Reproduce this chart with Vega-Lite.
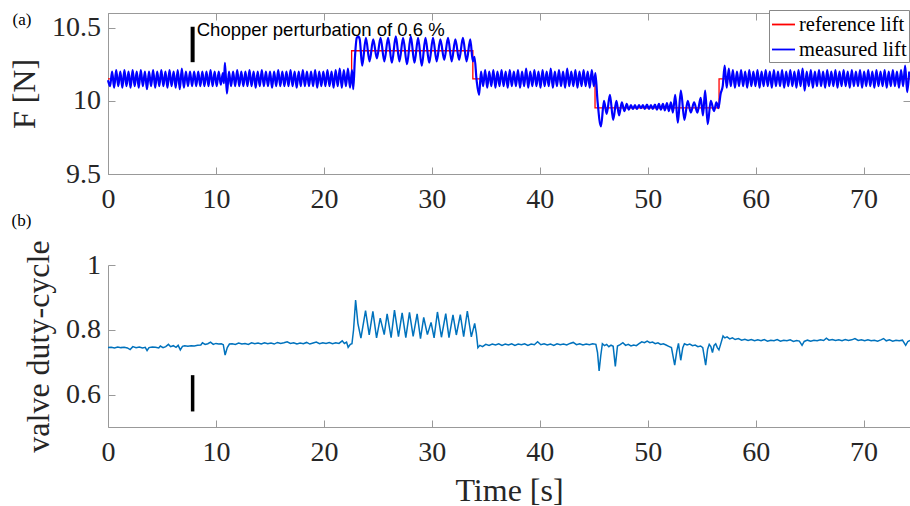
{
"$schema": "https://vega.github.io/schema/vega-lite/v6.json",
"padding": {"left": 8, "top": 9, "right": 0, "bottom": 0},
"background": "white",
"spacing": -3,
"config": {
 "font": "Liberation Serif",
 "style": {"guide-label": {"font": "Liberation Serif"}, "guide-title": {"font": "Liberation Serif"}},
 "axis": {"grid": false, "domainColor": "#999", "tickColor": "#999", "domainWidth": 1, "tickWidth": 1, "tickSize": -7, "labelColor": "#262626", "titleColor": "#262626", "labelFont": "Liberation Serif", "titleFont": "Liberation Serif", "labelFontSize": 28, "titleFontSize": 32, "titleFontWeight": "normal", "labelFlush": false},
 "axisX": {"labelPadding": 18},
 "axisY": {"labelPadding": 14.5},
 "title": {"font": "Liberation Serif", "fontSize": 17, "fontWeight": "normal", "anchor": "start", "frame": "bounds", "color": "black"},
 "legend": {"labelFont": "Liberation Serif", "labelFontSize": 20.5, "labelColor": "black", "symbolType": "stroke", "symbolSize": 529, "symbolStrokeWidth": 1.8, "padding": 2, "rowPadding": 2, "labelOffset": 3, "fillColor": "white", "strokeColor": "#888", "cornerRadius": 0}
},
"datasets": {
 "ref": [{"t":0,"v":10.15},{"t":22.57,"v":10.342},{"t":33.8,"v":10.15},{"t":45.12,"v":9.952},{"t":56.61,"v":10.15},{"t":74.3,"v":10.15}],
 "meas": [{"t":0,"v":10.14},{"t":0.19,"v":10.1},{"t":0.38,"v":10.2},{"t":0.57,"v":10.09},{"t":0.76,"v":10.21},{"t":0.95,"v":10.1},{"t":1.14,"v":10.2},{"t":1.33,"v":10.09},{"t":1.52,"v":10.21},{"t":1.71,"v":10.1},{"t":1.9,"v":10.2},{"t":2.09,"v":10.09},{"t":2.28,"v":10.21},{"t":2.47,"v":10.1},{"t":2.66,"v":10.2},{"t":2.85,"v":10.09},{"t":3.04,"v":10.21},{"t":3.23,"v":10.1},{"t":3.42,"v":10.2},{"t":3.61,"v":10.08},{"t":3.8,"v":10.2},{"t":3.99,"v":10.1},{"t":4.18,"v":10.21},{"t":4.37,"v":10.09},{"t":4.56,"v":10.2},{"t":4.75,"v":10.1},{"t":4.94,"v":10.21},{"t":5.13,"v":10.1},{"t":5.32,"v":10.2},{"t":5.51,"v":10.09},{"t":5.7,"v":10.21},{"t":5.89,"v":10.1},{"t":6.08,"v":10.2},{"t":6.27,"v":10.09},{"t":6.46,"v":10.21},{"t":6.65,"v":10.08},{"t":6.84,"v":10.22},{"t":7.03,"v":10.09},{"t":7.22,"v":10.2},{"t":7.41,"v":10.1},{"t":7.6,"v":10.2},{"t":7.79,"v":10.1},{"t":7.98,"v":10.2},{"t":8.17,"v":10.1},{"t":8.36,"v":10.2},{"t":8.55,"v":10.1},{"t":8.74,"v":10.2},{"t":8.93,"v":10.1},{"t":9.12,"v":10.2},{"t":9.31,"v":10.1},{"t":9.5,"v":10.21},{"t":9.69,"v":10.1},{"t":9.88,"v":10.2},{"t":10.07,"v":10.1},{"t":10.26,"v":10.2},{"t":10.45,"v":10.11},{"t":10.64,"v":10.19},{"t":10.74,"v":10.12},{"t":10.83,"v":10.26},{"t":11.02,"v":10.05},{"t":11.21,"v":10.2},{"t":11.4,"v":10.1},{"t":11.59,"v":10.2},{"t":11.78,"v":10.1},{"t":11.97,"v":10.21},{"t":12.16,"v":10.1},{"t":12.35,"v":10.2},{"t":12.54,"v":10.1},{"t":12.73,"v":10.2},{"t":12.92,"v":10.1},{"t":13.11,"v":10.21},{"t":13.3,"v":10.1},{"t":13.49,"v":10.2},{"t":13.68,"v":10.09},{"t":13.87,"v":10.2},{"t":14.06,"v":10.1},{"t":14.25,"v":10.21},{"t":14.44,"v":10.1},{"t":14.63,"v":10.2},{"t":14.82,"v":10.1},{"t":15.01,"v":10.2},{"t":15.2,"v":10.09},{"t":15.39,"v":10.2},{"t":15.58,"v":10.1},{"t":15.77,"v":10.21},{"t":15.96,"v":10.1},{"t":16.15,"v":10.2},{"t":16.34,"v":10.1},{"t":16.53,"v":10.2},{"t":16.72,"v":10.1},{"t":16.91,"v":10.21},{"t":17.1,"v":10.1},{"t":17.29,"v":10.2},{"t":17.48,"v":10.09},{"t":17.67,"v":10.2},{"t":17.86,"v":10.1},{"t":18.05,"v":10.21},{"t":18.24,"v":10.1},{"t":18.43,"v":10.2},{"t":18.62,"v":10.1},{"t":18.81,"v":10.2},{"t":19.0,"v":10.1},{"t":19.19,"v":10.21},{"t":19.38,"v":10.09},{"t":19.57,"v":10.2},{"t":19.76,"v":10.1},{"t":19.95,"v":10.2},{"t":20.14,"v":10.1},{"t":20.33,"v":10.21},{"t":20.52,"v":10.1},{"t":20.71,"v":10.2},{"t":20.9,"v":10.09},{"t":21.09,"v":10.21},{"t":21.28,"v":10.1},{"t":21.47,"v":10.22},{"t":21.66,"v":10.09},{"t":21.85,"v":10.21},{"t":22.04,"v":10.1},{"t":22.23,"v":10.22},{"t":22.42,"v":10.09},{"t":22.61,"v":10.21},{"t":22.72,"v":10.08},{"t":22.88,"v":10.3},{"t":23.04,"v":10.43},{"t":23.18,"v":10.44},{"t":23.32,"v":10.42},{"t":23.55,"v":10.24},{"t":23.89,"v":10.43},{"t":24.23,"v":10.27},{"t":24.57,"v":10.42},{"t":24.91,"v":10.29},{"t":25.25,"v":10.43},{"t":25.6,"v":10.27},{"t":25.95,"v":10.43},{"t":26.3,"v":10.26},{"t":26.66,"v":10.44},{"t":27.0,"v":10.27},{"t":27.34,"v":10.43},{"t":27.7,"v":10.25},{"t":28.05,"v":10.44},{"t":28.39,"v":10.26},{"t":28.73,"v":10.43},{"t":29.07,"v":10.24},{"t":29.41,"v":10.43},{"t":29.76,"v":10.26},{"t":30.11,"v":10.43},{"t":30.45,"v":10.27},{"t":30.79,"v":10.42},{"t":31.15,"v":10.28},{"t":31.5,"v":10.43},{"t":31.84,"v":10.27},{"t":32.18,"v":10.42},{"t":32.53,"v":10.28},{"t":32.88,"v":10.43},{"t":33.22,"v":10.27},{"t":33.56,"v":10.42},{"t":33.8,"v":10.27},{"t":33.95,"v":10.3},{"t":34.15,"v":10.14},{"t":34.38,"v":10.04},{"t":34.56,"v":10.2},{"t":34.75,"v":10.1},{"t":34.94,"v":10.21},{"t":35.13,"v":10.09},{"t":35.32,"v":10.2},{"t":35.51,"v":10.1},{"t":35.7,"v":10.21},{"t":35.89,"v":10.09},{"t":36.08,"v":10.2},{"t":36.27,"v":10.1},{"t":36.46,"v":10.21},{"t":36.65,"v":10.1},{"t":36.84,"v":10.2},{"t":37.03,"v":10.09},{"t":37.22,"v":10.21},{"t":37.41,"v":10.1},{"t":37.6,"v":10.2},{"t":37.79,"v":10.1},{"t":37.98,"v":10.21},{"t":38.17,"v":10.09},{"t":38.36,"v":10.2},{"t":38.55,"v":10.1},{"t":38.74,"v":10.22},{"t":38.93,"v":10.09},{"t":39.12,"v":10.2},{"t":39.31,"v":10.1},{"t":39.5,"v":10.21},{"t":39.69,"v":10.1},{"t":39.88,"v":10.2},{"t":40.07,"v":10.09},{"t":40.26,"v":10.21},{"t":40.45,"v":10.1},{"t":40.64,"v":10.2},{"t":40.83,"v":10.1},{"t":41.02,"v":10.22},{"t":41.21,"v":10.09},{"t":41.4,"v":10.2},{"t":41.59,"v":10.1},{"t":41.78,"v":10.21},{"t":41.97,"v":10.1},{"t":42.16,"v":10.2},{"t":42.35,"v":10.09},{"t":42.54,"v":10.22},{"t":42.73,"v":10.1},{"t":42.92,"v":10.2},{"t":43.11,"v":10.1},{"t":43.3,"v":10.21},{"t":43.49,"v":10.09},{"t":43.68,"v":10.2},{"t":43.87,"v":10.1},{"t":44.06,"v":10.21},{"t":44.25,"v":10.1},{"t":44.44,"v":10.2},{"t":44.63,"v":10.09},{"t":44.82,"v":10.21},{"t":45.01,"v":10.1},{"t":45.15,"v":10.19},{"t":45.35,"v":10.0},{"t":45.67,"v":9.825},{"t":45.95,"v":10.0},{"t":46.2,"v":9.91},{"t":46.5,"v":10.04},{"t":46.8,"v":9.87},{"t":47.1,"v":10.0},{"t":47.35,"v":9.9},{"t":47.6,"v":9.99},{"t":47.85,"v":9.93},{"t":48.05,"v":9.98},{"t":48.25,"v":9.94},{"t":48.45,"v":9.97},{"t":48.63,"v":9.945},{"t":48.82,"v":9.97},{"t":49.0,"v":9.945},{"t":49.19,"v":9.97},{"t":49.37,"v":9.95},{"t":49.56,"v":9.97},{"t":49.74,"v":9.945},{"t":49.93,"v":9.975},{"t":50.11,"v":9.945},{"t":50.3,"v":9.97},{"t":50.48,"v":9.945},{"t":50.67,"v":9.975},{"t":50.85,"v":9.94},{"t":51.04,"v":9.98},{"t":51.22,"v":9.94},{"t":51.41,"v":9.98},{"t":51.59,"v":9.935},{"t":51.78,"v":9.985},{"t":51.96,"v":9.93},{"t":52.15,"v":9.99},{"t":52.33,"v":9.92},{"t":52.55,"v":10.04},{"t":52.79,"v":9.85},{"t":53.07,"v":10.07},{"t":53.4,"v":9.87},{"t":53.71,"v":10.0},{"t":53.99,"v":9.92},{"t":54.3,"v":9.99},{"t":54.6,"v":9.92},{"t":54.91,"v":10.02},{"t":55.12,"v":9.9},{"t":55.32,"v":10.07},{"t":55.56,"v":9.84},{"t":55.84,"v":10.0},{"t":56.15,"v":9.93},{"t":56.36,"v":9.99},{"t":56.55,"v":9.95},{"t":56.76,"v":10.05},{"t":56.95,"v":10.1},{"t":57.13,"v":10.24},{"t":57.32,"v":10.09},{"t":57.51,"v":10.22},{"t":57.7,"v":10.1},{"t":57.89,"v":10.21},{"t":58.08,"v":10.09},{"t":58.27,"v":10.2},{"t":58.46,"v":10.1},{"t":58.65,"v":10.21},{"t":58.84,"v":10.1},{"t":59.03,"v":10.2},{"t":59.22,"v":10.09},{"t":59.41,"v":10.21},{"t":59.6,"v":10.1},{"t":59.79,"v":10.2},{"t":59.98,"v":10.1},{"t":60.17,"v":10.21},{"t":60.36,"v":10.09},{"t":60.55,"v":10.2},{"t":60.74,"v":10.1},{"t":60.93,"v":10.21},{"t":61.12,"v":10.1},{"t":61.31,"v":10.2},{"t":61.5,"v":10.09},{"t":61.69,"v":10.21},{"t":61.88,"v":10.1},{"t":62.07,"v":10.2},{"t":62.26,"v":10.1},{"t":62.45,"v":10.21},{"t":62.64,"v":10.09},{"t":62.83,"v":10.2},{"t":63.02,"v":10.1},{"t":63.21,"v":10.21},{"t":63.4,"v":10.1},{"t":63.59,"v":10.2},{"t":63.78,"v":10.09},{"t":63.97,"v":10.21},{"t":64.16,"v":10.1},{"t":64.35,"v":10.22},{"t":64.54,"v":10.07},{"t":64.73,"v":10.2},{"t":64.92,"v":10.1},{"t":65.11,"v":10.21},{"t":65.3,"v":10.09},{"t":65.49,"v":10.2},{"t":65.68,"v":10.1},{"t":65.87,"v":10.21},{"t":66.06,"v":10.1},{"t":66.25,"v":10.2},{"t":66.44,"v":10.09},{"t":66.63,"v":10.21},{"t":66.82,"v":10.1},{"t":67.01,"v":10.2},{"t":67.2,"v":10.1},{"t":67.39,"v":10.21},{"t":67.58,"v":10.09},{"t":67.77,"v":10.2},{"t":67.96,"v":10.1},{"t":68.15,"v":10.21},{"t":68.34,"v":10.1},{"t":68.53,"v":10.2},{"t":68.72,"v":10.09},{"t":68.91,"v":10.21},{"t":69.1,"v":10.1},{"t":69.29,"v":10.2},{"t":69.48,"v":10.1},{"t":69.67,"v":10.21},{"t":69.86,"v":10.09},{"t":70.05,"v":10.2},{"t":70.24,"v":10.1},{"t":70.43,"v":10.21},{"t":70.62,"v":10.1},{"t":70.81,"v":10.2},{"t":71.0,"v":10.09},{"t":71.19,"v":10.21},{"t":71.38,"v":10.1},{"t":71.57,"v":10.2},{"t":71.76,"v":10.1},{"t":71.95,"v":10.21},{"t":72.14,"v":10.09},{"t":72.33,"v":10.2},{"t":72.52,"v":10.1},{"t":72.71,"v":10.21},{"t":72.9,"v":10.1},{"t":73.09,"v":10.2},{"t":73.28,"v":10.09},{"t":73.47,"v":10.21},{"t":73.66,"v":10.1},{"t":73.85,"v":10.24},{"t":74.04,"v":10.06},{"t":74.23,"v":10.2}],
 "duty": [{"t":0,"v":0.745},{"t":0.3,"v":0.746},{"t":0.6,"v":0.744},{"t":0.9,"v":0.747},{"t":1.2,"v":0.745},{"t":1.5,"v":0.746},{"t":1.8,"v":0.744},{"t":2.05,"v":0.739},{"t":2.3,"v":0.748},{"t":2.6,"v":0.745},{"t":2.9,"v":0.747},{"t":3.2,"v":0.744},{"t":3.45,"v":0.746},{"t":3.62,"v":0.736},{"t":3.8,"v":0.745},{"t":4.1,"v":0.747},{"t":4.4,"v":0.746},{"t":4.7,"v":0.744},{"t":4.85,"v":0.75},{"t":5.1,"v":0.745},{"t":5.35,"v":0.748},{"t":5.6,"v":0.755},{"t":5.8,"v":0.748},{"t":6.05,"v":0.751},{"t":6.3,"v":0.746},{"t":6.5,"v":0.752},{"t":6.7,"v":0.738},{"t":6.9,"v":0.749},{"t":7.1,"v":0.751},{"t":7.4,"v":0.749},{"t":7.7,"v":0.751},{"t":8.0,"v":0.75},{"t":8.3,"v":0.752},{"t":8.6,"v":0.753},{"t":8.75,"v":0.76},{"t":9.0,"v":0.755},{"t":9.25,"v":0.757},{"t":9.5,"v":0.762},{"t":9.75,"v":0.755},{"t":10.0,"v":0.758},{"t":10.25,"v":0.756},{"t":10.5,"v":0.757},{"t":10.68,"v":0.754},{"t":10.85,"v":0.722},{"t":11.05,"v":0.745},{"t":11.25,"v":0.756},{"t":11.5,"v":0.757},{"t":11.8,"v":0.755},{"t":12.1,"v":0.759},{"t":12.4,"v":0.756},{"t":12.7,"v":0.758},{"t":13.0,"v":0.755},{"t":13.3,"v":0.76},{"t":13.6,"v":0.757},{"t":13.9,"v":0.759},{"t":14.2,"v":0.756},{"t":14.5,"v":0.76},{"t":14.8,"v":0.757},{"t":15.1,"v":0.759},{"t":15.4,"v":0.756},{"t":15.7,"v":0.761},{"t":16.0,"v":0.758},{"t":16.3,"v":0.76},{"t":16.6,"v":0.763},{"t":16.9,"v":0.758},{"t":17.2,"v":0.76},{"t":17.5,"v":0.756},{"t":17.8,"v":0.759},{"t":18.1,"v":0.757},{"t":18.4,"v":0.761},{"t":18.7,"v":0.756},{"t":19.0,"v":0.759},{"t":19.3,"v":0.762},{"t":19.6,"v":0.757},{"t":19.9,"v":0.76},{"t":20.2,"v":0.758},{"t":20.5,"v":0.761},{"t":20.8,"v":0.757},{"t":21.1,"v":0.76},{"t":21.4,"v":0.758},{"t":21.7,"v":0.766},{"t":21.9,"v":0.758},{"t":22.1,"v":0.762},{"t":22.25,"v":0.746},{"t":22.45,"v":0.755},{"t":22.6,"v":0.757},{"t":22.75,"v":0.8},{"t":22.94,"v":0.892},{"t":23.15,"v":0.82},{"t":23.43,"v":0.774},{"t":23.86,"v":0.859},{"t":24.2,"v":0.784},{"t":24.54,"v":0.857},{"t":24.88,"v":0.775},{"t":25.22,"v":0.836},{"t":25.59,"v":0.785},{"t":25.86,"v":0.849},{"t":26.23,"v":0.776},{"t":26.54,"v":0.861},{"t":26.91,"v":0.779},{"t":27.25,"v":0.852},{"t":27.59,"v":0.776},{"t":27.93,"v":0.854},{"t":28.27,"v":0.78},{"t":28.64,"v":0.849},{"t":28.95,"v":0.773},{"t":29.25,"v":0.838},{"t":29.59,"v":0.785},{"t":29.93,"v":0.823},{"t":30.21,"v":0.775},{"t":30.52,"v":0.855},{"t":30.89,"v":0.777},{"t":31.29,"v":0.85},{"t":31.59,"v":0.776},{"t":31.96,"v":0.846},{"t":32.27,"v":0.784},{"t":32.64,"v":0.847},{"t":32.95,"v":0.779},{"t":33.29,"v":0.858},{"t":33.66,"v":0.778},{"t":33.97,"v":0.82},{"t":34.12,"v":0.79},{"t":34.27,"v":0.745},{"t":34.45,"v":0.752},{"t":34.7,"v":0.748},{"t":35.0,"v":0.755},{"t":35.3,"v":0.752},{"t":35.6,"v":0.756},{"t":35.9,"v":0.753},{"t":36.2,"v":0.757},{"t":36.5,"v":0.752},{"t":36.8,"v":0.756},{"t":37.1,"v":0.753},{"t":37.4,"v":0.757},{"t":37.7,"v":0.752},{"t":38.0,"v":0.756},{"t":38.3,"v":0.754},{"t":38.6,"v":0.757},{"t":38.9,"v":0.752},{"t":39.2,"v":0.756},{"t":39.5,"v":0.754},{"t":39.8,"v":0.763},{"t":40.1,"v":0.754},{"t":40.4,"v":0.757},{"t":40.7,"v":0.753},{"t":41.0,"v":0.756},{"t":41.3,"v":0.752},{"t":41.6,"v":0.757},{"t":41.9,"v":0.754},{"t":42.2,"v":0.756},{"t":42.5,"v":0.753},{"t":42.8,"v":0.758},{"t":43.1,"v":0.761},{"t":43.4,"v":0.754},{"t":43.7,"v":0.757},{"t":44.0,"v":0.753},{"t":44.3,"v":0.756},{"t":44.6,"v":0.754},{"t":44.9,"v":0.757},{"t":45.2,"v":0.755},{"t":45.35,"v":0.73},{"t":45.5,"v":0.673},{"t":45.65,"v":0.72},{"t":45.8,"v":0.757},{"t":46.0,"v":0.751},{"t":46.2,"v":0.755},{"t":46.4,"v":0.748},{"t":46.6,"v":0.753},{"t":46.8,"v":0.749},{"t":47.0,"v":0.687},{"t":47.2,"v":0.75},{"t":47.45,"v":0.754},{"t":47.7,"v":0.76},{"t":47.95,"v":0.752},{"t":48.2,"v":0.755},{"t":48.45,"v":0.75},{"t":48.7,"v":0.753},{"t":48.95,"v":0.751},{"t":49.2,"v":0.757},{"t":49.45,"v":0.763},{"t":49.7,"v":0.76},{"t":49.95,"v":0.765},{"t":50.2,"v":0.76},{"t":50.45,"v":0.762},{"t":50.7,"v":0.757},{"t":50.95,"v":0.76},{"t":51.2,"v":0.755},{"t":51.45,"v":0.757},{"t":51.7,"v":0.753},{"t":51.95,"v":0.749},{"t":52.2,"v":0.745},{"t":52.5,"v":0.691},{"t":52.7,"v":0.735},{"t":52.85,"v":0.758},{"t":53.06,"v":0.706},{"t":53.25,"v":0.745},{"t":53.4,"v":0.757},{"t":53.65,"v":0.753},{"t":53.9,"v":0.756},{"t":54.15,"v":0.751},{"t":54.4,"v":0.753},{"t":54.65,"v":0.748},{"t":54.9,"v":0.75},{"t":55.1,"v":0.745},{"t":55.37,"v":0.691},{"t":55.55,"v":0.74},{"t":55.7,"v":0.755},{"t":55.85,"v":0.748},{"t":56.0,"v":0.73},{"t":56.15,"v":0.752},{"t":56.3,"v":0.757},{"t":56.45,"v":0.745},{"t":56.6,"v":0.738},{"t":56.78,"v":0.758},{"t":56.98,"v":0.781},{"t":57.15,"v":0.775},{"t":57.35,"v":0.778},{"t":57.6,"v":0.772},{"t":57.85,"v":0.775},{"t":58.1,"v":0.77},{"t":58.4,"v":0.773},{"t":58.7,"v":0.768},{"t":59.0,"v":0.771},{"t":59.3,"v":0.767},{"t":59.6,"v":0.77},{"t":59.9,"v":0.766},{"t":60.2,"v":0.769},{"t":60.5,"v":0.766},{"t":60.8,"v":0.77},{"t":61.1,"v":0.765},{"t":61.4,"v":0.768},{"t":61.7,"v":0.766},{"t":62.0,"v":0.77},{"t":62.3,"v":0.765},{"t":62.6,"v":0.768},{"t":62.9,"v":0.766},{"t":63.2,"v":0.769},{"t":63.5,"v":0.764},{"t":63.8,"v":0.767},{"t":64.05,"v":0.765},{"t":64.3,"v":0.752},{"t":64.5,"v":0.764},{"t":64.8,"v":0.768},{"t":65.1,"v":0.765},{"t":65.4,"v":0.768},{"t":65.7,"v":0.766},{"t":66.0,"v":0.769},{"t":66.3,"v":0.767},{"t":66.55,"v":0.774},{"t":66.8,"v":0.768},{"t":67.1,"v":0.77},{"t":67.4,"v":0.767},{"t":67.7,"v":0.769},{"t":68.0,"v":0.766},{"t":68.3,"v":0.77},{"t":68.6,"v":0.767},{"t":68.9,"v":0.769},{"t":69.2,"v":0.773},{"t":69.5,"v":0.767},{"t":69.8,"v":0.769},{"t":70.1,"v":0.766},{"t":70.4,"v":0.769},{"t":70.7,"v":0.766},{"t":71.0,"v":0.768},{"t":71.3,"v":0.765},{"t":71.6,"v":0.769},{"t":71.85,"v":0.773},{"t":72.1,"v":0.766},{"t":72.4,"v":0.769},{"t":72.7,"v":0.765},{"t":73.0,"v":0.768},{"t":73.3,"v":0.766},{"t":73.6,"v":0.768},{"t":73.9,"v":0.752},{"t":74.1,"v":0.764},{"t":74.3,"v":0.767}],
 "bar1": [{"t":7.84,"lo":10.264,"hi":10.506}],
 "bar2": [{"t":7.84,"lo":0.548,"hi":0.66}],
 "note": [{"t":8.22,"v":10.444,"label":"Chopper perturbation of 0.6 %"}]
},
"vconcat": [
 {
  "width": 802, "height": 161,
  "title": {"text": "(a)", "offset": -16, "dx": 4},
  "view": {"stroke": "#999", "strokeWidth": 1},
  "layer": [
   {"data": {"name": "ref"}, "mark": {"type": "line", "interpolate": "step-after", "strokeWidth": 1.3},
    "encoding": {
     "x": {"field": "t", "type": "quantitative", "scale": {"domain": [0, 74.3], "nice": false, "zero": false}, "axis": {"values": [0,10,20,30,40,50,60,70], "title": null, "labelFont": "Liberation Serif"}},
     "y": {"field": "v", "type": "quantitative", "scale": {"domain": [9.5, 10.6], "nice": false, "zero": false}, "axis": {"values": [9.5,10,10.5], "format": "~g", "title": "F [N]", "titlePadding": 10, "labelFont": "Liberation Serif", "titleFont": "Liberation Serif"}},
     "color": {"datum": "reference lift", "scale": {"domain": ["reference lift", "measured lift"], "range": ["#ff0000", "#0000ff"]}, "legend": {"title": null, "orient": "none", "legendX": 661, "legendY": -3, "strokeColor": "#888", "fillColor": "white", "padding": 2}}
    }},
   {"data": {"name": "meas"}, "mark": {"type": "line", "interpolate": "monotone", "strokeWidth": 2.2},
    "encoding": {
     "x": {"field": "t", "type": "quantitative", "scale": {"domain": [0, 74.3], "nice": false, "zero": false}, "axis": {"orient": "top", "labels": false, "domain": false, "title": null, "values": [0,10,20,30,40,50,60,70]}},
     "y": {"field": "v", "type": "quantitative", "scale": {"domain": [9.5, 10.6], "nice": false, "zero": false}, "axis": {"orient": "right", "labels": false, "domain": false, "title": null, "values": [9.5,10,10.5]}},
     "color": {"datum": "measured lift"}
    }},
   {"data": {"name": "bar1"}, "mark": {"type": "rule", "strokeWidth": 4, "stroke": "black"},
    "encoding": {
     "x": {"field": "t", "type": "quantitative", "scale": {"domain": [0, 74.3], "nice": false, "zero": false}, "axis": null},
     "y": {"field": "lo", "type": "quantitative", "scale": {"domain": [9.5, 10.6], "nice": false, "zero": false}, "axis": null},
     "y2": {"field": "hi"}
    }},
   {"data": {"name": "note"}, "mark": {"type": "text", "font": "Liberation Sans", "fontSize": 18.5, "align": "left", "baseline": "alphabetic", "color": "black"},
    "encoding": {
     "x": {"field": "t", "type": "quantitative", "scale": {"domain": [0, 74.3], "nice": false, "zero": false}, "axis": null},
     "y": {"field": "v", "type": "quantitative", "scale": {"domain": [9.5, 10.6], "nice": false, "zero": false}, "axis": null},
     "text": {"field": "label"}
    }}
  ],
  "resolve": {"axis": {"x": "independent", "y": "independent"}}
 },
 {
  "width": 802, "height": 162,
  "title": {"text": "(b)", "offset": 10, "dx": -11},
  "view": {"stroke": null},
  "layer": [
   {"data": {"name": "duty"}, "mark": {"type": "line", "strokeWidth": 1.5, "color": "#0072BD"},
    "encoding": {
     "x": {"field": "t", "type": "quantitative", "title": "Time [s]", "scale": {"domain": [0, 74.3], "nice": false, "zero": false}, "axis": {"values": [0,10,20,30,40,50,60,70], "titlePadding": 9, "labelFont": "Liberation Serif", "titleFont": "Liberation Serif"}},
     "y": {"field": "v", "type": "quantitative", "title": "valve duty-cycle", "scale": {"domain": [0.5, 1], "nice": false, "zero": false}, "axis": {"values": [0.6,0.8,1], "format": "~g", "titlePadding": 10, "labelFont": "Liberation Serif", "titleFont": "Liberation Serif"}}
    }},
   {"data": {"name": "bar2"}, "mark": {"type": "rule", "strokeWidth": 3.5, "stroke": "black"},
    "encoding": {
     "x": {"field": "t", "type": "quantitative", "title": "Time [s]", "scale": {"domain": [0, 74.3], "nice": false, "zero": false}},
     "y": {"field": "lo", "type": "quantitative", "title": "valve duty-cycle", "scale": {"domain": [0.5, 1], "nice": false, "zero": false}},
     "y2": {"field": "hi"}
    }}
  ]
 }
]
}
